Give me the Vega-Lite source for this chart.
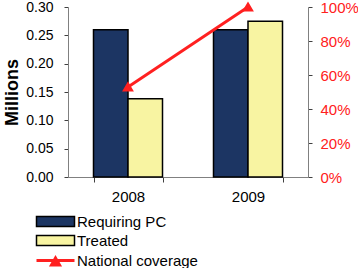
{
  "$schema": "https://vega.github.io/schema/vega-lite/v6.json",
  "width": 240,
  "height": 170,
  "autosize": {"type": "none"},
  "padding": {"left": 68, "top": 7, "right": 50, "bottom": 91},
  "background": "white",
  "config": {
    "font": "Liberation Sans",
    "view": {"stroke": null},
    "axis": {"grid": false, "domainColor": "#808080", "tickColor": "#404040", "labelFont": "Liberation Sans", "labelFontSize": 14, "labelColor": "black"},
    "legend": {"labelFont": "Liberation Sans", "labelFontSize": 15, "labelColor": "black", "padding": 0}
  },
  "datasets": {
    "bars": [
      {"year": "2008", "series": "Requiring PC", "value": 0.26},
      {"year": "2008", "series": "Treated", "value": 0.138},
      {"year": "2009", "series": "Requiring PC", "value": 0.26},
      {"year": "2009", "series": "Treated", "value": 0.275}
    ],
    "coverage": [
      {"year": "2008", "coverage": 0.53},
      {"year": "2009", "coverage": 1.0}
    ]
  },
  "encoding": {
    "x": {
      "field": "year", "type": "nominal",
      "scale": {"paddingInner": 0.425, "paddingOuter": 0.2125},
      "axis": {"title": null, "labelAngle": 0, "tickBand": "extent", "tickSize": 5, "labelPadding": 7, "labelFontSize": 15}
    }
  },
  "layer": [
    {
      "data": {"name": "bars"},
      "mark": {"type": "bar", "stroke": "black", "strokeWidth": 1.5},
      "encoding": {
        "xOffset": {"field": "series", "type": "nominal", "scale": {"paddingInner": 0, "paddingOuter": 0}},
        "y": {
          "field": "value", "type": "quantitative",
          "scale": {"domain": [0, 0.3]},
          "axis": {"title": "Millions", "titleFontSize": 18, "titleFontWeight": "bold", "titleColor": "black", "titlePadding": 4, "format": ".2f", "values": [0, 0.05, 0.1, 0.15, 0.2, 0.25, 0.3], "tickSize": 4, "labelPadding": 11}
        },
        "fill": {
          "field": "series", "type": "nominal",
          "scale": {"domain": ["Requiring PC", "Treated"], "range": ["#1c3563", "#f8f4a2"]},
          "legend": {
            "title": null, "orient": "none", "legendX": -20, "legendY": 207,
            "symbolType": "M-3.8,-1H3.8V1H-3.8Z", "symbolSize": 100,
            "symbolStrokeColor": "black", "symbolStrokeWidth": 1.5,
            "labelOffset": 14, "rowPadding": 2
          }
        }
      }
    },
    {
      "data": {"name": "coverage"},
      "mark": {"type": "line", "strokeWidth": 3, "point": {"shape": "triangle-up", "size": 70, "filled": true, "color": "#ff2020"}},
      "encoding": {
        "y": {
          "field": "coverage", "type": "quantitative",
          "scale": {"domain": [0, 1]},
          "axis": {"orient": "right", "title": null, "format": ".0%", "values": [0, 0.2, 0.4, 0.6, 0.8, 1], "labelColor": "#ff2020", "labelFontSize": 15, "tickSize": 4, "labelPadding": 8}
        },
        "stroke": {
          "datum": "National coverage",
          "scale": {"domain": ["National coverage"], "range": ["#ff2020"]},
          "legend": {
            "title": null, "orient": "none", "legendX": -20, "legendY": 246,
            "symbolType": "M-3.8,0H3.8M-0.8,0.9L0,-0.5L0.8,0.9Z", "symbolSize": 100,
            "symbolStrokeWidth": 3, "symbolFillColor": "#ff2020",
            "labelOffset": 14
          }
        }
      }
    }
  ],
  "resolve": {"scale": {"y": "independent"}}
}
